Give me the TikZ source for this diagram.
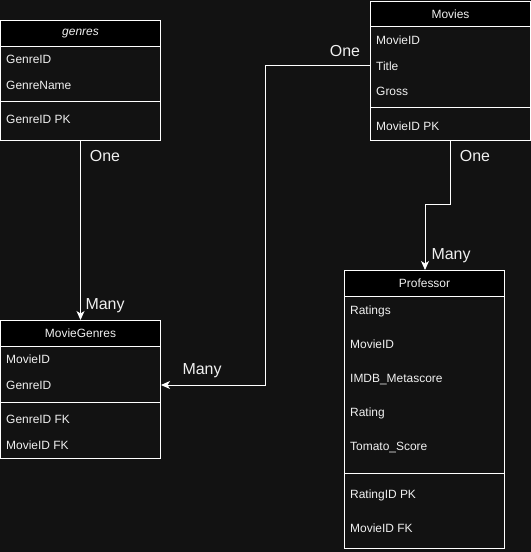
\documentclass[tikz,border=0pt]{standalone}
\usepackage{fontspec}
\setmainfont{Liberation Sans}
\usetikzlibrary{arrows.meta}
\definecolor{bgc}{HTML}{121212}
\definecolor{txt}{HTML}{F0F0F0}
\begin{document}
\begin{tikzpicture}[x=1bp,y=-1bp,
  tbl/.style={draw=white, line width=1bp, fill=bgc, anchor=north west, inner sep=0pt, minimum width=160bp},
  hdr/.style={draw=white, line width=1bp, fill=black, anchor=north west, inner sep=0pt, minimum width=160bp, minimum height=26bp, text=txt, font=\fontsize{12}{14}\selectfont},
  rowtxt/.style={anchor=west, inner xsep=6bp, inner ysep=0pt, text height=8.6bp, text depth=0pt, text=txt, font=\fontsize{12}{14}\selectfont},
  sep/.style={draw=white, line width=1bp},
  lbl/.style={text=txt, inner sep=0pt, text height=11.5bp, text depth=0pt, font=\fontsize{16}{18}\selectfont},
  conn/.style={draw=white, line width=1bp, -{Stealth[length=9bp,width=8bp,inset=2.5bp]}}]
\useasboundingbox (0,0) rectangle (531,552);
\fill[bgc] (0,0) rectangle (531,552);

% genres
\node[tbl, minimum height=120bp] (genres) at (0,20) {};
\node[hdr] (genresH) at (genres.north west) {\textit{genres}};
\node[rowtxt] (g1) at (0,59) {GenreID};
\node[rowtxt] (g2) at (0,85) {GenreName};
\draw[sep] (0,102) -- (160,102);
\node[rowtxt] (g3) at (0,119) {GenreID PK};

% Movies
\node[tbl, minimum height=139bp] (movies) at (370,1) {};
\node[hdr, minimum height=25bp] (moviesH) at (movies.north west) {Movies};
\node[rowtxt] (m1) at (370,40) {MovieID};
\node[rowtxt] (m2) at (370,66) {Title};
\node[rowtxt] (m3) at (370,91) {Gross};
\draw[sep] (370,108) -- (530,108);
\node[rowtxt] (m4) at (370,126) {MovieID PK};

% MovieGenres
\node[tbl, minimum height=138bp] (mg) at (0,320) {};
\node[hdr] (mgH) at (mg.north west) {MovieGenres};
\node[rowtxt] (mg1) at (0,359) {MovieID};
\node[rowtxt] (mg2) at (0,385) {GenreID};
\draw[sep] (0,402) -- (160,402);
\node[rowtxt] (mg3) at (0,419) {GenreID FK};
\node[rowtxt] (mg4) at (0,445) {MovieID FK};

% Professor
\node[tbl, minimum height=278bp] (prof) at (344,270) {};
\node[hdr] (profH) at (prof.north west) {Professor};
\node[rowtxt] (p1) at (344,310) {Ratings};
\node[rowtxt] (p2) at (344,344) {MovieID};
\node[rowtxt] (p3) at (344,378) {IMDB\_Metascore};
\node[rowtxt] (p4) at (344,412) {Rating};
\node[rowtxt] (p5) at (344,446) {Tomato\_Score};
\draw[sep] (344,473) -- (504,473);
\node[rowtxt] (p6) at (344,494) {RatingID PK};
\node[rowtxt] (p7) at (344,528) {MovieID FK};

% connectors
\coordinate (c1a) at (265,66);
\coordinate (c1b) at (265,385);
\draw[conn] (movies.west |- m2) -- (c1a) -- (c1b) -- (mg.east |- mg2);

\draw[conn] (genres.south) -- (mgH.north);

\coordinate (c3a) at (450,205);
\coordinate (c3b) at (425,205);
\draw[conn] (movies.south -| c3a) -- (c3a) -- (c3b) -- (profH.north -| c3b);

% labels
\node[lbl] (l1) at (105,156) {One};
\node[lbl] (l2) at (105,304) {Many};
\node[lbl] (l3) at (345,51) {One};
\node[lbl] (l4) at (202,369) {Many};
\node[lbl] (l5) at (475,156) {One};
\node[lbl] (l6) at (451,254) {Many};
\end{tikzpicture}
\end{document}
